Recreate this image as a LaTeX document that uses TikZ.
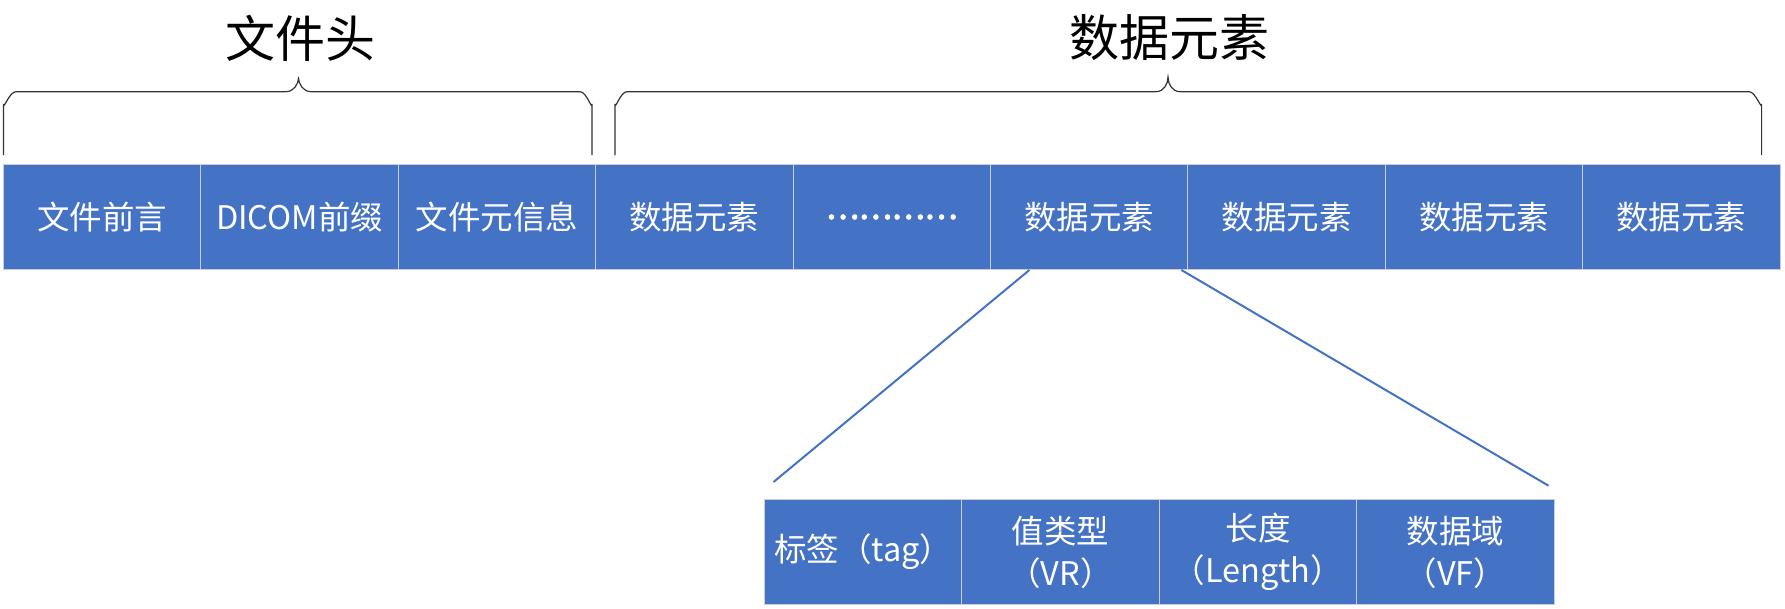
\documentclass[tikz,border=0pt]{standalone}
\usepackage{fontspec}
\setmainfont{Noto Sans CJK SC}
\newfontfamily\cjk{Noto Sans CJK SC}
\newfontfamily\cjkdots{Noto Sans CJK SC}[FakeBold=4]
\definecolor{boxblue}{HTML}{4472C4}
\definecolor{boxedge}{HTML}{C9CED6}
\begin{document}
\begin{tikzpicture}[x=1pt,y=-1pt,
  cell/.style={draw=boxedge,line width=1pt,fill=boxblue,text=white,
    minimum width=197.4pt,minimum height=105pt,inner sep=0pt,anchor=north west,
    align=center,font=\cjk\fontsize{32.5}{42}\selectfont},
  brc/.style={draw=black!80,line width=1.2pt},
  zoomline/.style={draw=boxblue,line width=2pt},
  title/.style={font=\cjk\fontsize{50}{54}\selectfont,text=black}]
\useasboundingbox (0,0) rectangle (1785,608);
% top row
\node[cell] (t1) at (3,164) {文件前言};
\node[cell] (t2) at (200.4,164) {DICOM前缀};
\node[cell] (t3) at (397.8,164) {文件元信息};
\node[cell] (t4) at (595.2,164) {数据元素};
\node[cell,font=\cjkdots\fontsize{31}{42}\selectfont] (t5) at (792.6,164) {…………};
\node[cell] (t6) at (990,164) {数据元素};
\node[cell] (t7) at (1187.4,164) {数据元素};
\node[cell] (t8) at (1384.8,164) {数据元素};
\node[cell] (t9) at (1582.2,164) {数据元素};
% bottom row
\node[cell] (b1) at (764,499) {标签（tag）};
\node[cell] (b2) at (961.4,499) {值类型\\（VR）};
\node[cell] (b3) at (1158.8,499) {长度\\（Length）};
\node[cell] (b4) at (1356.2,499) {数据域\\（VF）};
% titles
\node[title] (h1) at (300,38) {文件头};
\node[title] (h2) at (1169,38) {数据元素};
% braces
\draw[brc] (3.4,155) -- (3.4,104) to[out=-90,in=180] (16,91.7) -- (286,91.7)
  to[out=0,in=-90] (298.5,77) to[out=-90,in=180] (311,91.7) -- (580,91.7)
  to[out=0,in=-90] (592,104) -- (592,155);
\draw[brc] (615,155) -- (615,104) to[out=-90,in=180] (627,91.7) -- (1156,91.7)
  to[out=0,in=-90] (1168,77) to[out=-90,in=180] (1180,91.7) -- (1749,91.7)
  to[out=0,in=-90] (1761.6,104) -- (1761.6,155);
% zoom lines
\coordinate (zl) at (773.5,482);
\coordinate (zr) at (1548.5,485.7);
\draw[zoomline] ([xshift=-159pt]t6.south east) -- (zl);
\draw[zoomline] ([xshift=-7pt]t6.south east) -- (zr);
\end{tikzpicture}
\end{document}
